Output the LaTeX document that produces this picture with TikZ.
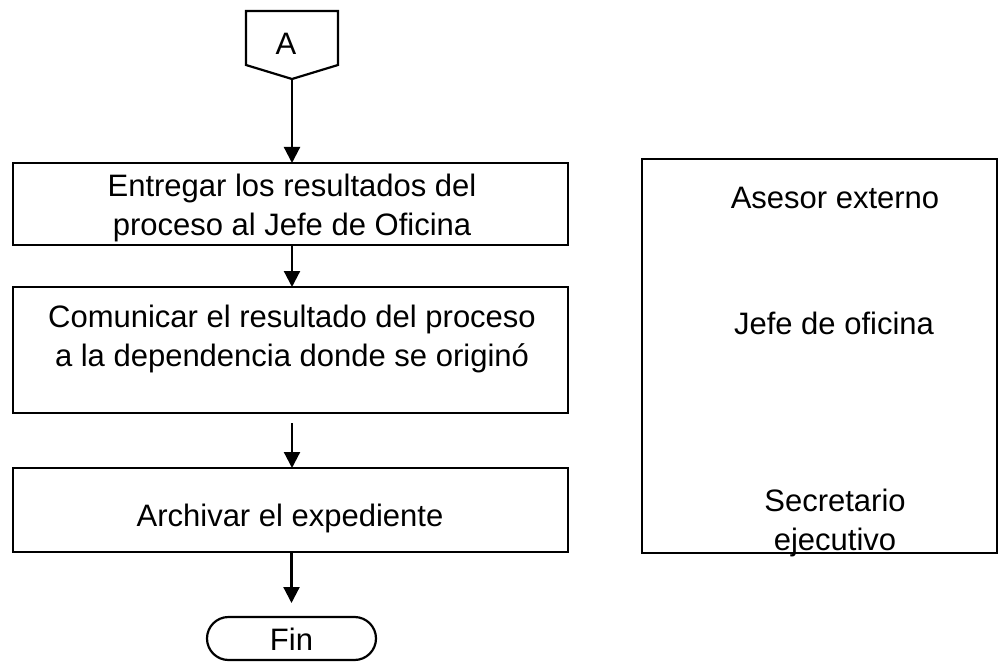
\documentclass[tikz,border=0pt]{standalone}
\usepackage{fontspec}
\setmainfont{Liberation Sans}
\usetikzlibrary{arrows.meta,shapes.misc,calc}
\begin{document}
\begin{tikzpicture}[x=1pt,y=-1pt,
  line/.style={line width=2.2pt,line join=miter},
  flowbox/.style={draw,line width=2.2pt,rectangle,inner sep=0pt,outer sep=0pt},
  lbl/.style={font=\fontsize{31}{38.5}\selectfont,align=center,inner sep=0pt},
  arr/.style={line width=2.2pt,-{Triangle[length=16pt,width=16pt]}},
]
\useasboundingbox (0,0) rectangle (999,666);
% off-page connector
\draw[line] (246,11) -- (338,11) -- (338,65) -- (292,79) -- (246,65) -- cycle;
\coordinate (Atip) at (292,79);
\node[lbl] (A) at (286,44) {A};
% boxes
\node[flowbox,minimum width=555pt,minimum height=82pt] (b1) at (290.5,204) {};
\node[flowbox,minimum width=555pt,minimum height=126pt] (b2) at (290.5,350) {};
\node[flowbox,minimum width=555pt,minimum height=84pt] (b3) at (290.5,510) {};
\node[draw,line width=2.2pt,rounded rectangle,minimum width=169pt,minimum height=43pt,inner sep=0pt,outer sep=0pt] (fin) at (291.5,638.5) {};
\node[lbl] (tfin) at (291.5,639) {Fin};
\node[flowbox,minimum width=355pt,minimum height=394pt] (r) at (819.5,356) {};
% texts
\node[lbl] (t1) at (292,208) {Entregar los resultados del\\proceso al Jefe de Oficina};
\node[lbl] (t2) at (292,339) {Comunicar el resultado del proceso\\a la dependencia donde se originó};
\node[lbl] (t3) at (290,518) {Archivar el expediente};
\node[lbl] (r1) at (835,198) {Asesor externo};
\node[lbl] (r2) at (834,323) {Jefe de oficina};
\node[lbl] (r3) at (835,523) {Secretario\\ejecutivo};
% connectors
\draw[arr] (Atip) -- (Atip |- b1.north);
\draw[arr] (b1.south -| Atip) -- (b2.north -| Atip);
\coordinate (s3) at (292,423);
\draw[arr] (s3) -- (s3 |- b3.north);
\coordinate (e4) at ($(fin.north)+(0,-14)$);
\draw[arr] (b3.south -| e4) -- (e4);
\end{tikzpicture}
\end{document}
